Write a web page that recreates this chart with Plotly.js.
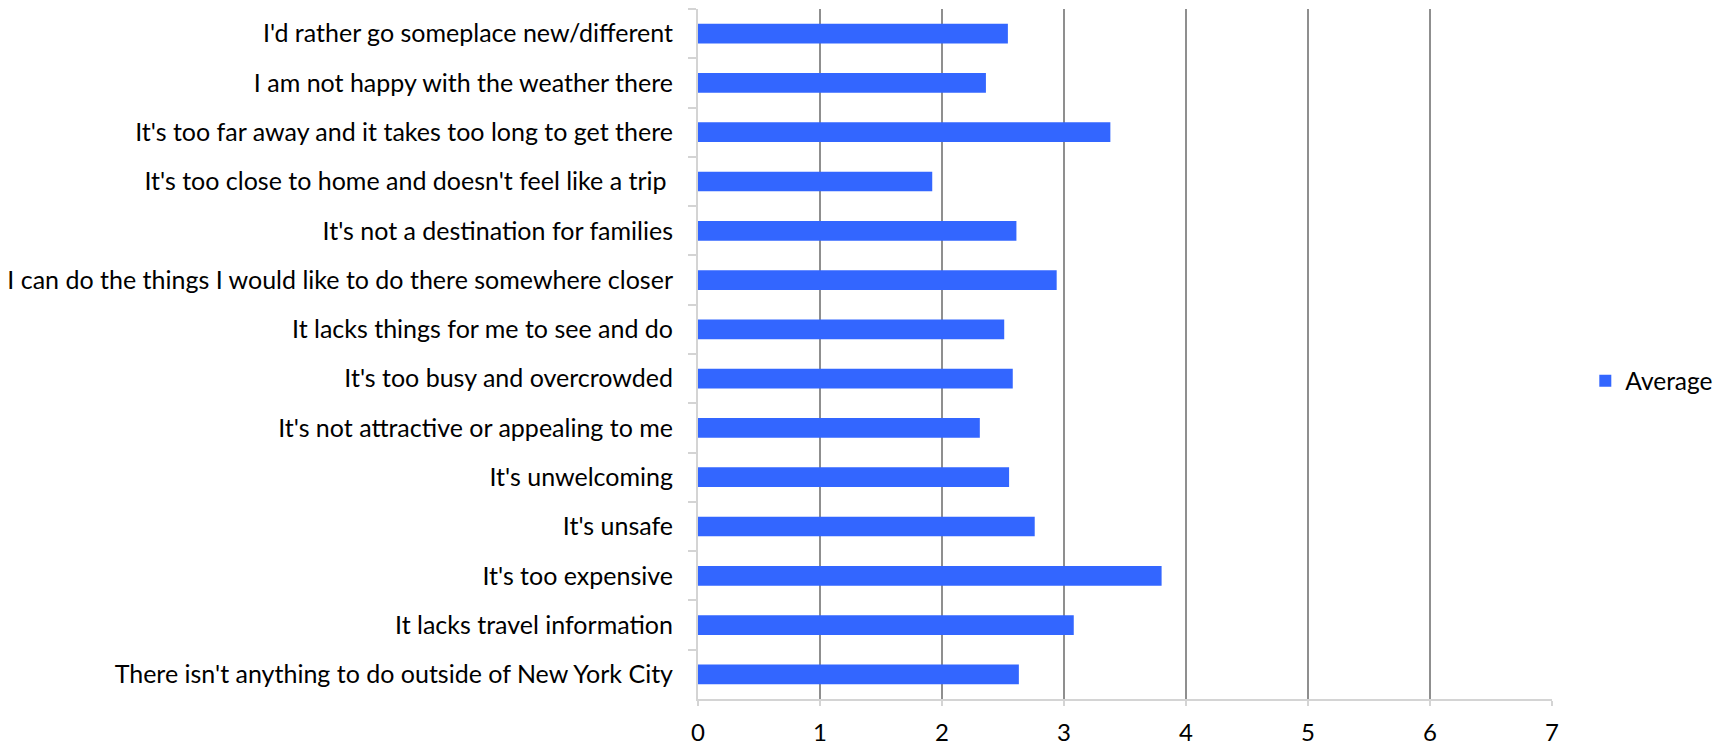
<!DOCTYPE html>
<html>
<head>
<meta charset="utf-8">
<script src="https://cdn.plot.ly/plotly-3.0.1.min.js"></script>
<style>html,body{margin:0;padding:0;background:#fff;}#chart{width:1723px;height:752px;}</style>
</head>
<body>
<div id="chart"></div>
<script>
const categories = [
  "I'd rather go someplace new/different",
  "I am not happy with the weather there",
  "It's too far away and it takes too long to get there",
  "It's too close to home and doesn't feel like a trip ",
  "It's not a destination for families",
  "I can do the things I would like to do there somewhere closer",
  "It lacks things for me to see and do",
  "It's too busy and overcrowded",
  "It's not attractive or appealing to me",
  "It's unwelcoming",
  "It's unsafe",
  "It's too expensive",
  "It lacks travel information",
  "There isn't anything to do outside of New York City"
];
const averages = [2.54, 2.36, 3.38, 1.92, 2.61, 2.94, 2.51, 2.58, 2.31, 2.55, 2.76, 3.80, 3.08, 2.63];
const xTicks = [0, 1, 2, 3, 4, 5, 6, 7];
const seriesName = "Average";

const FONT = "Lato, 'Open Sans', sans-serif";

const trace = {
  type: 'bar',
  orientation: 'h',
  y: categories,
  x: averages,
  name: seriesName,
  width: 0.4,
  marker: {color: '#3366ff', line: {width: 0}},
  showlegend: true,
  hoverinfo: 'x+y'
};

const layout = {
  width: 1723,
  height: 752,
  margin: {l: 698, r: 171, t: 9, b: 53, pad: 0, autoexpand: false},
  paper_bgcolor: '#ffffff',
  plot_bgcolor: '#ffffff',
  font: {family: FONT, size: 25, color: '#000000'},
  showlegend: true,
  legend: {
    x: 1.039, xanchor: 'left', y: 0.461, yanchor: 'middle',
    font: {family: FONT, size: 24.5, color: '#000000'},
    bgcolor: 'rgba(0,0,0,0)', borderwidth: 0
  },
  xaxis: {
    range: [0, 7],
    tickvals: xTicks,
    ticktext: xTicks.map(String),
    showgrid: true,
    gridcolor: '#8f8f8f',
    gridwidth: 2,
    zeroline: false,
    showline: true,
    linecolor: '#d4d4d4',
    linewidth: 2,
    ticks: 'outside',
    ticklen: 5,
    tickcolor: '#d4d4d4',
    tickwidth: 2,
    ticklabelstandoff: 6,
    tickfont: {family: FONT, size: 24, color: '#000000'},
    fixedrange: true
  },
  yaxis: {
    type: 'category',
    autorange: 'reversed',
    showgrid: false,
    zeroline: false,
    showline: true,
    linecolor: '#d4d4d4',
    linewidth: 2,
    ticks: 'outside',
    tickson: 'boundaries',
    ticklen: 8,
    tickcolor: '#d4d4d4',
    tickwidth: 2,
    ticklabelstandoff: 18,
    tickfont: {family: FONT, size: 25, color: '#000000'},
    fixedrange: true
  },
  bargap: 0.6
};

Plotly.newPlot('chart', [trace], layout, {displayModeBar: false, responsive: false});
</script>
</body>
</html>
